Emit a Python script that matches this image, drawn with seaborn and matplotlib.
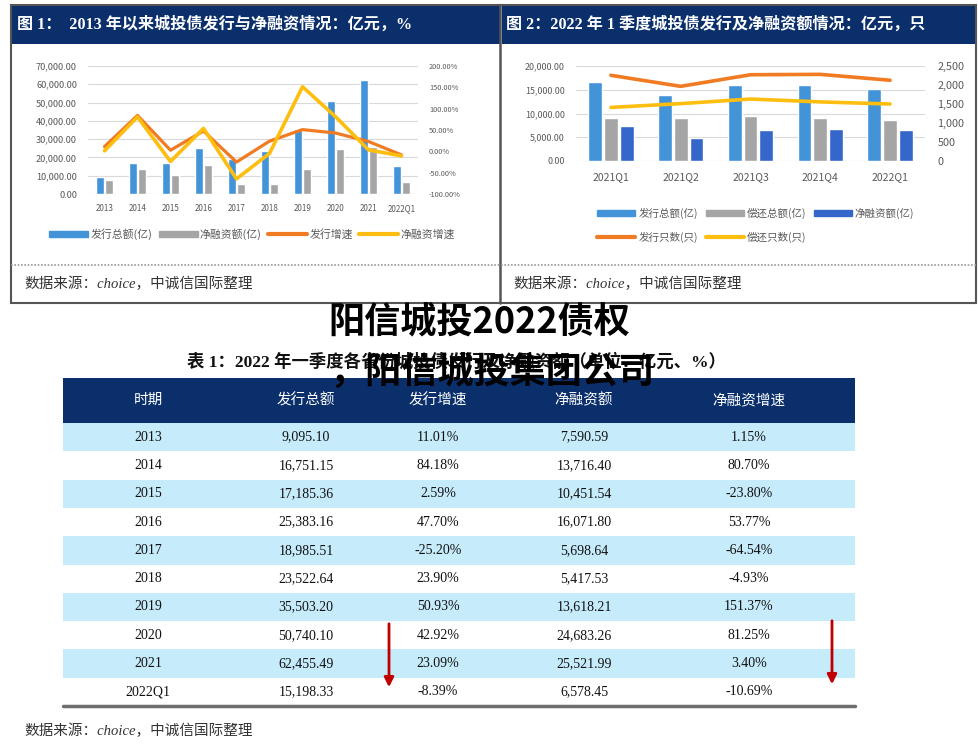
import numpy as np
import pandas as pd
import matplotlib
matplotlib.use("Agg")
import matplotlib.pyplot as plt
import seaborn as sns
from matplotlib.patches import Rectangle, Patch
from matplotlib.lines import Line2D

# ---- data ----
years = ["2013", "2014", "2015", "2016", "2017", "2018", "2019", "2020", "2021", "2022Q1"]
issue_total = [9095.10, 16751.15, 17185.36, 25383.16, 18985.51, 23522.64, 35503.20, 50740.10, 62455.49, 15198.33]
issue_growth = [11.01, 84.18, 2.59, 47.70, -25.20, 23.90, 50.93, 42.92, 23.09, -8.39]
net_fin = [7590.59, 13716.40, 10451.54, 16071.80, 5698.64, 5417.53, 13618.21, 24683.26, 25521.99, 6578.45]
net_growth = [1.15, 80.70, -23.80, 53.77, -64.54, -4.93, 151.37, 81.25, 3.40, -10.69]

quarters = ["2021Q1", "2021Q2", "2021Q3", "2021Q4", "2022Q1"]
q_issue = [16560, 13830, 16000, 16000, 15198.33]
q_repay = [9120, 8980, 9470, 9120, 8619.88]
q_net = [7300, 4770, 6460, 6810, 6578.45]
q_issue_cnt = [2255, 1965, 2270, 2280, 2125]
q_repay_cnt = [1410, 1510, 1630, 1555, 1500]

table_cols = ["时期", "发行总额", "发行增速", "净融资额", "净融资增速"]

W, H = 979, 754
BLUE = "#4393d9"
GRAY = "#a5a5a5"
DKBLUE = "#3467c9"
ORANGE = "#f07b22"
YELLOW = "#fdbe10"
NAVY = "#0a2f6b"
LIGHT = "#c6ebfb"
TICK = "#595959"

sns.set_style("white")
plt.rcParams["font.family"] = ["Noto Sans CJK SC", "DejaVu Sans"]
SERIF = ["Liberation Serif", "Noto Sans CJK SC"]

fig = plt.figure(figsize=(W / 100, H / 100), dpi=100)


def px_axes(x0, y0, x1, y1):
    return fig.add_axes([x0 / W, 1 - y1 / H, (x1 - x0) / W, (y1 - y0) / H])


bg = fig.add_axes([0, 0, 1, 1])
bg.set_xlim(0, W)
bg.set_ylim(H, 0)
bg.axis("off")

# panel frames
bg.add_patch(Rectangle((11, 5), 489, 39, color=NAVY, lw=0))
bg.add_patch(Rectangle((502, 5), 474, 39, color=NAVY, lw=0))
bg.add_patch(Rectangle((11, 5), 965, 298, fill=False, ec="#555555", lw=1.5))
bg.plot([500, 500], [5, 303], color="#555555", lw=1.8)
bg.plot([11, 976], [265, 265], color="#999999", lw=1.2, ls=(0, (1, 1)))
bg.text(17, 25, "图 1：  2013 年以来城投债发行与净融资情况：亿元，%", color="white",
        fontsize=11.6, fontweight="bold", va="center", family=SERIF)
bg.text(506, 25, "图 2：2022 年 1 季度城投债发行及净融资额情况：亿元，只", color="white",
        fontsize=11.6, fontweight="bold", va="center", family=SERIF)
for sx in (24, 513):
    bg.text(sx, 284, "数据来源：choice，中诚信国际整理", fontsize=10.5, style="italic",
            color="#333333", va="center", family=SERIF)

# ---- chart 1 ----
ax1 = px_axes(88, 66, 418, 194)
df1 = pd.DataFrame({"时期": years * 2,
                    "金额": issue_total + net_fin,
                    "系列": ["发行总额(亿)"] * len(years) + ["净融资额(亿)"] * len(years)})
sns.barplot(df1, x="时期", y="金额", hue="系列", palette=[BLUE, GRAY], width=0.55,
            gap=0.08, ax=ax1, legend=False, saturation=1)
ax1.set_ylim(0, 70000)
ax1.set_yticks(np.arange(0, 70001, 10000))
ax1.set_yticklabels([f"{v:,.2f}" for v in np.arange(0, 70001, 10000)])
ax1.grid(axis="y", color="#d9d9d9", lw=0.8)
ax1.set_axisbelow(True)
ax1.set_xlabel("")
ax1.set_ylabel("")
ax1.tick_params(axis="y", labelsize=6.6, colors=TICK, length=0, pad=8)
ax1.tick_params(axis="x", labelsize=5.8, colors=TICK, length=0, pad=7)
ax1b = ax1.twinx()
xpos = np.arange(len(years))
sns.lineplot(x=xpos, y=issue_growth, color=ORANGE, lw=2.3, ax=ax1b, solid_joinstyle="round")
sns.lineplot(x=xpos, y=net_growth, color=YELLOW, lw=2.6, ax=ax1b, solid_joinstyle="round")
ax1b.set_ylim(-100, 200)
ax1b.set_yticks(np.arange(-100, 201, 50))
ax1b.set_yticklabels([f"{v:.2f}%" for v in np.arange(-100, 201, 50)])
ax1b.tick_params(axis="y", labelsize=5.3, colors=TICK, length=0, pad=8)
ax1.set_xlim(-0.5, len(years) - 0.5)
for a in (ax1, ax1b):
    a.set_facecolor("none")
    for s in a.spines.values():
        s.set_visible(False)

h1 = [Patch(color=BLUE), Patch(color=GRAY), Line2D([], [], color=ORANGE, lw=3),
      Line2D([], [], color=YELLOW, lw=3)]
fig.legend(h1, ["发行总额(亿)", "净融资额(亿)", "发行增速", "净融资增速"], ncol=4,
           loc="center", bbox_to_anchor=(252 / W, 1 - 234 / H), frameon=False,
           fontsize=7.8, handlelength=3.6, handleheight=0.45, handletextpad=0.2,
           columnspacing=0.6, labelcolor=TICK)

# ---- chart 2 ----
ax2 = px_axes(576, 66, 925, 161)
df2 = pd.DataFrame({"季度": quarters * 3,
                    "金额": q_issue + q_repay + q_net,
                    "系列": ["发行总额(亿)"] * 5 + ["偿还总额(亿)"] * 5 + ["净融资额(亿)"] * 5})
sns.barplot(df2, x="季度", y="金额", hue="系列", palette=[BLUE, GRAY, DKBLUE], width=0.68,
            gap=0.12, ax=ax2, legend=False, saturation=1)
ax2.set_ylim(0, 20000)
ax2.set_yticks(np.arange(0, 20001, 5000))
ax2.set_yticklabels([f"{v:,.2f}" for v in np.arange(0, 20001, 5000)])
ax2.grid(axis="y", color="#d9d9d9", lw=0.8)
ax2.set_axisbelow(True)
ax2.set_xlabel("")
ax2.set_ylabel("")
ax2.tick_params(axis="y", labelsize=6.4, colors=TICK, length=0, pad=8)
ax2.tick_params(axis="x", labelsize=7.5, colors=TICK, length=0, pad=8)
ax2b = ax2.twinx()
qpos = np.arange(len(quarters))
sns.lineplot(x=qpos, y=q_issue_cnt, color=ORANGE, lw=2.6, ax=ax2b, solid_joinstyle="round")
sns.lineplot(x=qpos, y=q_repay_cnt, color=YELLOW, lw=2.6, ax=ax2b, solid_joinstyle="round")
ax2b.set_ylim(0, 2500)
ax2b.set_yticks(np.arange(0, 2501, 500))
ax2b.set_yticklabels([f"{v:,}" for v in np.arange(0, 2501, 500)])
ax2b.tick_params(axis="y", labelsize=7.8, colors=TICK, length=0, pad=9)
ax2.set_xlim(-0.5, len(quarters) - 0.5)
for a in (ax2, ax2b):
    a.set_facecolor("none")
    for s in a.spines.values():
        s.set_visible(False)

h2 = [Patch(color=BLUE), Line2D([], [], color=ORANGE, lw=3), Patch(color=GRAY),
      Line2D([], [], color=YELLOW, lw=3), Patch(color=DKBLUE)]
fig.legend(h2, ["发行总额(亿)", "发行只数(只)", "偿还总额(亿)", "偿还只数(只)", "净融资额(亿)"],
           ncol=3, loc="upper left", bbox_to_anchor=(588 / W, 1 - 198 / H), frameon=False,
           fontsize=7.6, handlelength=3.6, handleheight=0.45, handletextpad=0.3,
           columnspacing=0.7, labelspacing=1.2, labelcolor=TICK)

# ---- table ----
bg.text(456, 362, "表 1：2022 年一季度各省份城投债发行及净融资额（单位：亿元、%）", ha="center",
        va="center", fontsize=12.5, fontweight="bold", family=SERIF, color="#111111")
tx0, tx1 = 63, 855
head_top, head_bot = 378, 423
row_h = 28.3
col_x = [148, 306, 438, 584, 749]
bg.add_patch(Rectangle((tx0, head_top), tx1 - tx0, head_bot - head_top, color=NAVY, lw=0))
for cx, name in zip(col_x, table_cols):
    bg.text(cx, (head_top + head_bot) / 2, name, ha="center", va="center", color="white",
            fontsize=10.5, family=SERIF)
for i, yr in enumerate(years):
    top = head_bot + i * row_h
    if i % 2 == 0:
        bg.add_patch(Rectangle((tx0, top), tx1 - tx0, row_h, color=LIGHT, lw=0))
    cells = [yr, f"{issue_total[i]:,.2f}", f"{issue_growth[i]:.2f}%",
             f"{net_fin[i]:,.2f}", f"{net_growth[i]:.2f}%"]
    for cx, c in zip(col_x, cells):
        bg.text(cx, top + row_h / 2, c, ha="center", va="center", fontsize=10,
                family=SERIF, color="#111111")
bot = head_bot + len(years) * row_h
bg.plot([tx0, tx1], [bot, bot], color="#6e6e6e", lw=2.5)
bg.text(24, 731, "数据来源：choice，中诚信国际整理", fontsize=10.5, style="italic",
        color="#333333", va="center", family=SERIF)

for ax_x, y0, y1 in [(389, 621, 690), (832, 618, 687)]:
    bg.annotate("", xy=(ax_x, y1), xytext=(ax_x, y0),
                arrowprops=dict(arrowstyle="-|>", color="#c00000", lw=2, mutation_scale=14))

# overlay text
bg.text(479, 322, "阳信城投2022债权", ha="center", va="center", fontsize=26,
        fontweight="heavy", color="black", zorder=10)
bg.text(492, 372, "，阳信城投集团公司", ha="center", va="center", fontsize=26,
        fontweight="heavy", color="black", zorder=10)

fig.savefig("out.png", dpi=100)
